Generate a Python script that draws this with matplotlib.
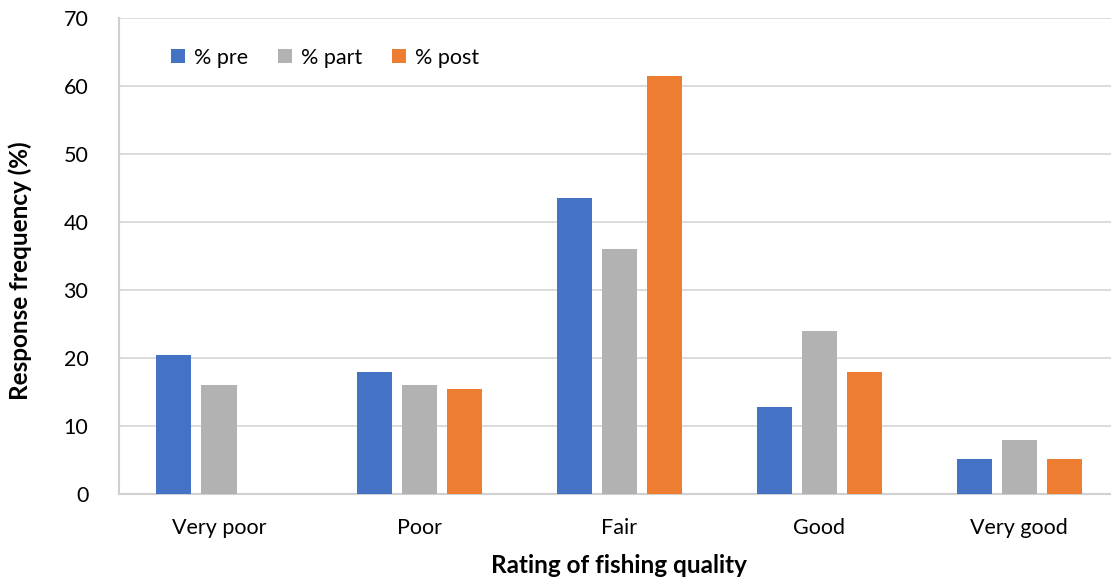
import matplotlib
matplotlib.use('Agg')
import matplotlib.pyplot as plt
import numpy as np

# Data
categories = ['Very poor', 'Poor', 'Fair', 'Good', 'Very good']
series_names = ['% pre', '% part', '% post']
pct_pre = [20.5, 17.9, 43.6, 12.8, 5.1]
pct_part = [16.0, 16.0, 36.0, 24.0, 8.0]
pct_post = [0.0, 15.4, 61.5, 17.9, 5.1]
y_ticks = [0, 10, 20, 30, 40, 50, 60, 70]

colors = ['#4472C4', '#B2B2B2', '#ED7D31']

plt.rcParams['font.family'] = ['Lato', 'DejaVu Sans']

fig = plt.figure(figsize=(11.11, 5.82), dpi=100)
ax = fig.add_axes([0.1071, 0.1512, 0.9002, 0.8179])

x = np.arange(len(categories))
width = 0.175
step = 0.225
for i, (vals, name, col) in enumerate(zip([pct_pre, pct_part, pct_post], series_names, colors)):
    ax.bar(x + (i - 1) * step, vals, width, color=col, label=name, zorder=3)

ax.set_xlim(-0.5, len(categories) - 0.5)
ax.set_ylim(0, 70)
ax.set_yticks(y_ticks)
ax.set_xticks(x)
ax.set_xticklabels(categories)
ax.tick_params(axis='both', length=0, labelsize=15.5, colors='#000000')
ax.tick_params(axis='y', pad=22)
ax.tick_params(axis='x', pad=17)

ax.grid(True, axis='y', color='#d9d9d9', linewidth=1.3, zorder=0)
for side in ['top', 'right']:
    ax.spines[side].set_visible(False)
for side in ['left', 'bottom']:
    ax.spines[side].set_color('#d0d0d0')
    ax.spines[side].set_linewidth(1.5)

ax.set_xlabel('Rating of fishing quality', fontsize=17.5, fontweight='bold')
ax.xaxis.set_label_coords(0.5, -0.127)
ax.set_ylabel('Response frequency (%)', fontsize=17.5, fontweight='bold')
ax.yaxis.set_label_coords(-0.087, 0.47)

ax.legend(loc='upper left', bbox_to_anchor=(0.033, 0.978), ncol=3, frameon=False,
          fontsize=15.5, handlelength=0.65, handleheight=0.65, handletextpad=0.4,
          columnspacing=1.4)

fig.savefig('out.png', dpi=100, facecolor='white')
